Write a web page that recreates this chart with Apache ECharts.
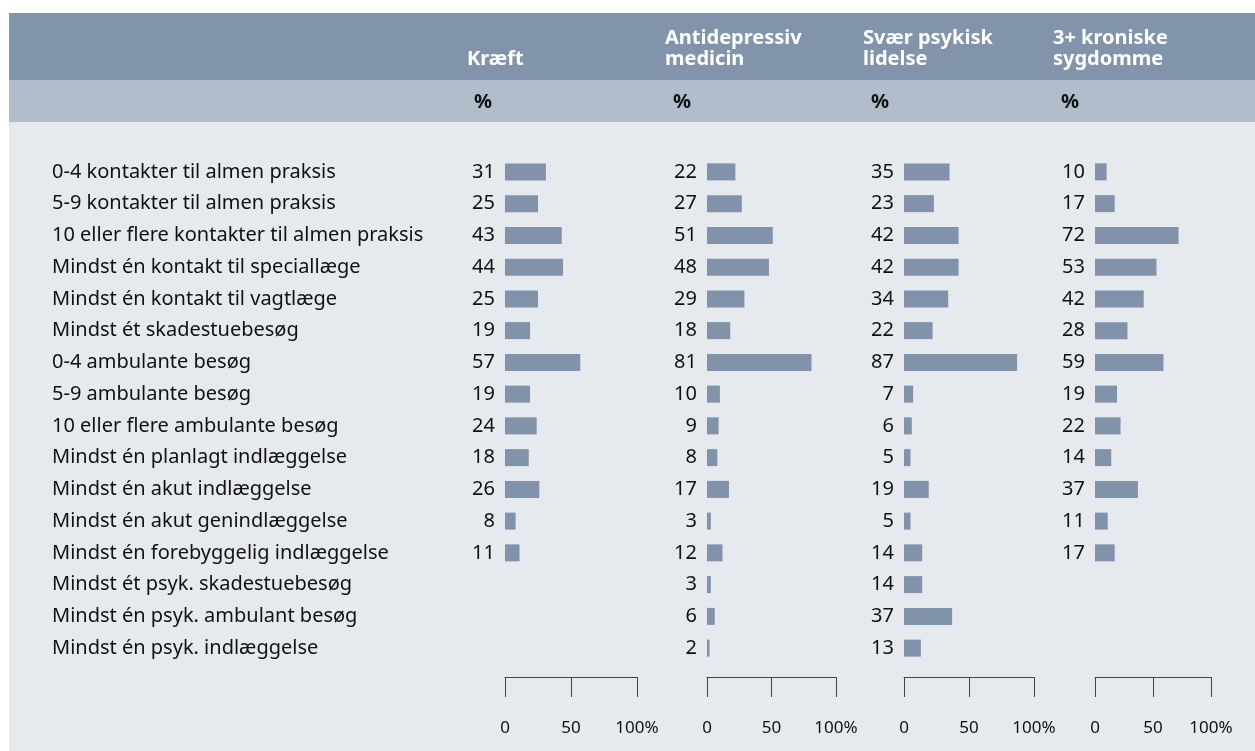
<!DOCTYPE html>
<html>
<head>
<meta charset="utf-8">
<script src="https://cdn.jsdelivr.net/npm/echarts@6/dist/echarts.min.js"></script>
<style>
  html, body { margin: 0; padding: 0; background: #fff; }
  #chart { width: 1255px; height: 751px; }
</style>
</head>
<body>
<div id="chart"></div>
<script>
// data
const categories = [
  '0-4 kontakter til almen praksis',
  '5-9 kontakter til almen praksis',
  '10 eller flere kontakter til almen praksis',
  'Mindst én kontakt til speciallæge',
  'Mindst én kontakt til vagtlæge',
  'Mindst ét skadestuebesøg',
  '0-4 ambulante besøg',
  '5-9 ambulante besøg',
  '10 eller flere ambulante besøg',
  'Mindst én planlagt indlæggelse',
  'Mindst én akut indlæggelse',
  'Mindst én akut genindlæggelse',
  'Mindst én forebyggelig indlæggelse',
  'Mindst ét psyk. skadestuebesøg',
  'Mindst én psyk. ambulant besøg',
  'Mindst én psyk. indlæggelse'
];
const groups = ['Kræft', 'Antidepressiv\nmedicin', 'Svær psykisk\nlidelse', '3+ kroniske\nsygdomme'];
const kraeft = [31, 25, 43, 44, 25, 19, 57, 19, 24, 18, 26, 8, 11, '-', '-', '-'];
const antidepressiv = [22, 27, 51, 48, 29, 18, 81, 10, 9, 8, 17, 3, 12, 3, 6, 2];
const psykisk = [35, 23, 42, 42, 34, 22, 87, 7, 6, 5, 19, 5, 14, 14, 37, 13];
const kroniske = [10, 17, 72, 53, 42, 28, 59, 19, 22, 14, 37, 11, 17, '-', '-', '-'];
const tickValues = [0, 50, 100];
const tickLabels = ['0', '50', '100%'];

const seriesData = [kraeft, antidepressiv, psykisk, kroniske];

// layout
const gridLefts = [505, 707, 904, 1095];
const gridWidths = [132, 129, 130, 116];
const headerX = [467, 665, 863, 1053];
const pctX = [474, 673, 871, 1061];
const barColor = '#8093ab';
const font = 'Noto Sans';

const chart = echarts.init(document.getElementById('chart'));

const grids = [], xAxes = [], yAxes = [], series = [];
seriesData.forEach((data, i) => {
  grids.push({ left: gridLefts[i], width: gridWidths[i], top: 156, height: 508 });
  xAxes.push({
    type: 'value', gridIndex: i, min: 0, max: 100, interval: 50, offset: 13,
    axisLine: { show: true, lineStyle: { color: '#444', width: 1 } },
    axisTick: { show: true, length: 20, lineStyle: { color: '#444', width: 1 } },
    splitLine: { show: false },
    axisLabel: {
      margin: 43, fontSize: 17, color: '#111', fontFamily: font,
      formatter: v => tickLabels[tickValues.indexOf(v)]
    }
  });
  yAxes.push({
    type: 'category', gridIndex: i, data: categories, inverse: true,
    axisLine: { show: false }, axisTick: { show: false },
    axisLabel: {
      show: i === 0, align: 'left', margin: gridLefts[0] - 52,
      fontSize: 20, color: '#111', fontFamily: font
    }
  });
  series.push({
    type: 'bar', xAxisIndex: i, yAxisIndex: i, data: data,
    barWidth: 17, silent: true,
    itemStyle: { color: barColor },
    label: {
      show: true, position: 'left', distance: 10,
      fontSize: 20, color: '#111', fontFamily: font
    }
  });
});

const graphic = [
  { type: 'rect', z: -10, shape: { x: 9, y: 13, width: 1246, height: 67 }, style: { fill: '#8194ab' } },
  { type: 'rect', z: -10, shape: { x: 9, y: 80, width: 1246, height: 42 }, style: { fill: '#b2bdcb' } },
  { type: 'rect', z: -10, shape: { x: 9, y: 122, width: 1246, height: 629 }, style: { fill: '#e6e9ee' } }
];
groups.forEach((g, i) => {
  graphic.push({
    type: 'text', z: 5, x: headerX[i], y: 70,
    style: {
      text: g, fill: '#fff', fontSize: 20, fontWeight: 'bold', fontFamily: font,
      lineHeight: 21, verticalAlign: 'bottom', align: 'left'
    }
  });
  graphic.push({
    type: 'text', z: 5, x: pctX[i], y: 102,
    style: {
      text: '%', fill: '#111', fontSize: 20, fontWeight: 'bold', fontFamily: font,
      verticalAlign: 'middle', align: 'left'
    }
  });
});

chart.setOption({
  animation: false,
  grid: grids,
  xAxis: xAxes,
  yAxis: yAxes,
  series: series,
  graphic: graphic
});
</script>
</body>
</html>
